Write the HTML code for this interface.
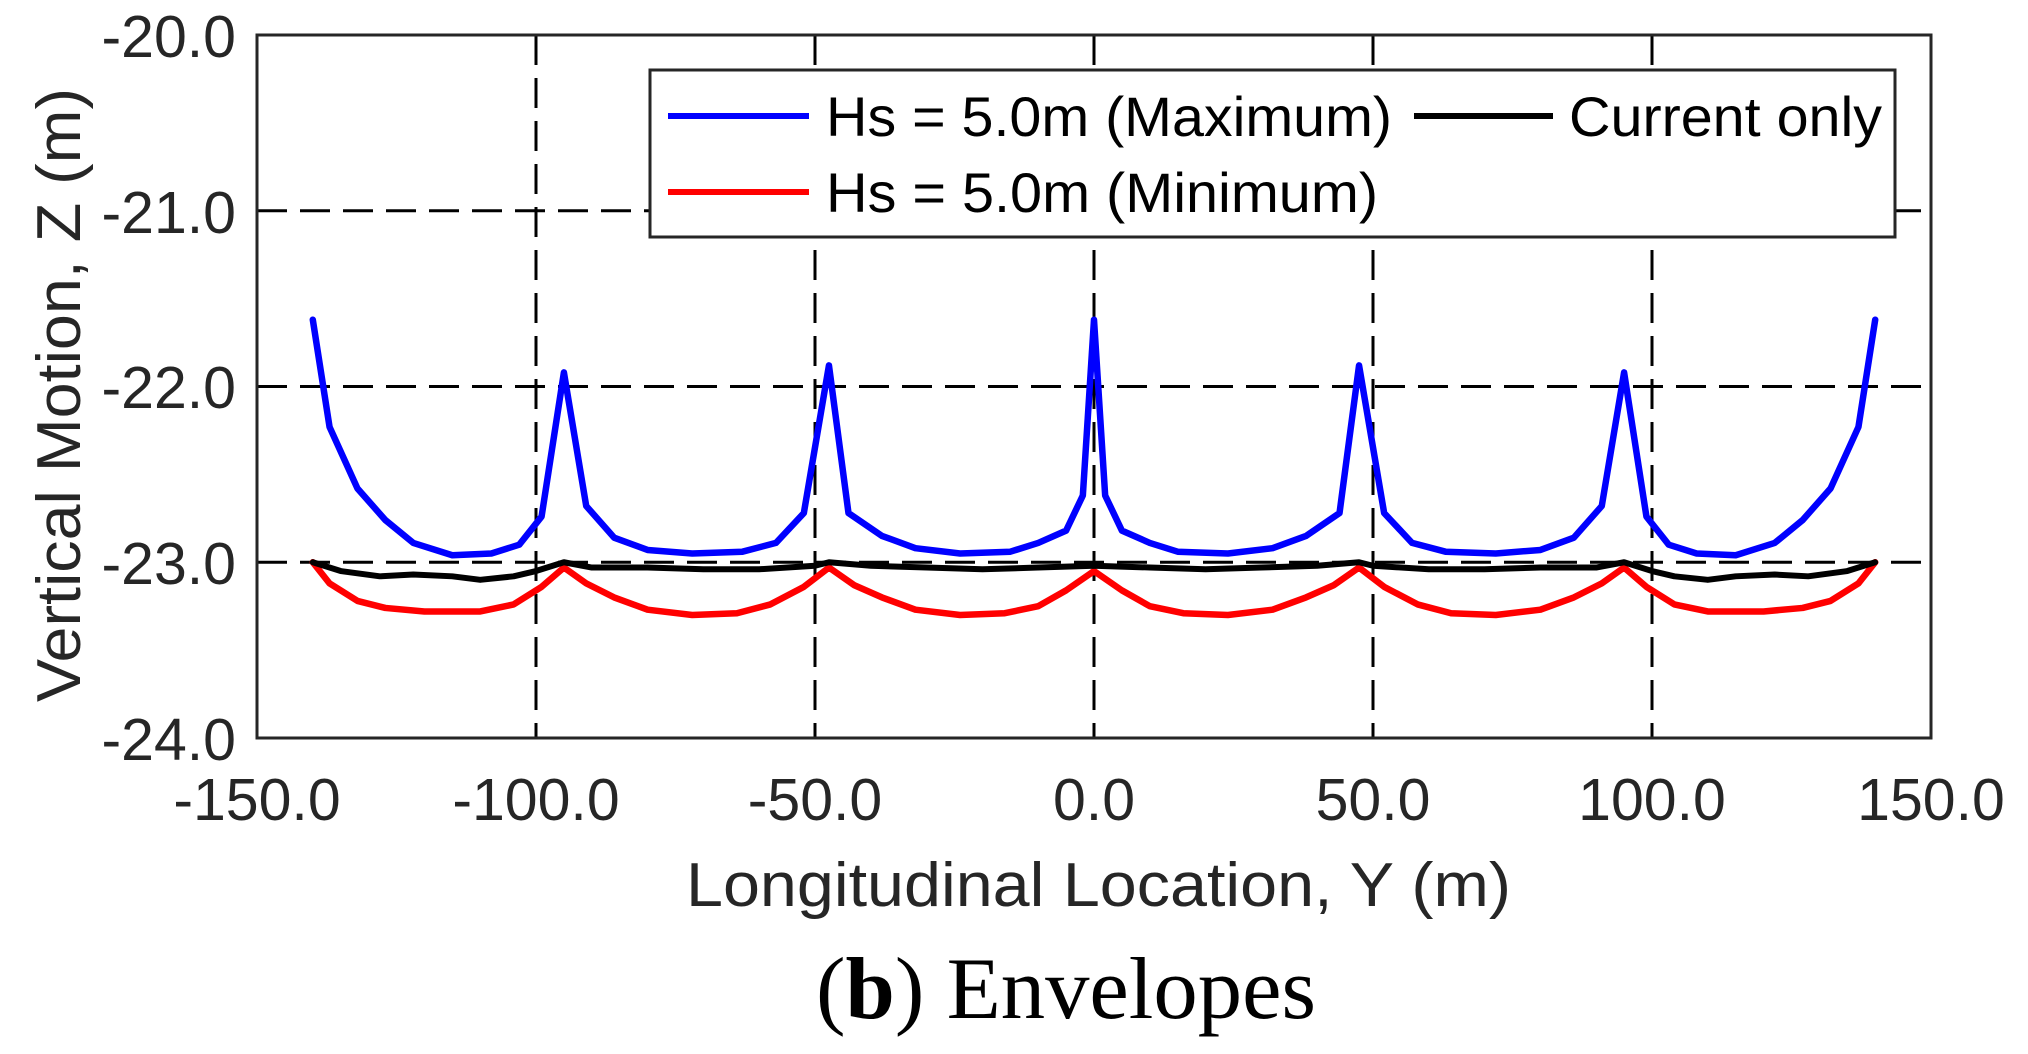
<!DOCTYPE html>
<html><head><meta charset="utf-8"><style>
html,body{margin:0;padding:0;background:#fff;}
svg{display:block;}
</style></head><body>
<svg width="2028" height="1054" viewBox="0 0 2028 1054" xmlns="http://www.w3.org/2000/svg" font-family="Liberation Sans, Arial, sans-serif">
<rect width="2028" height="1054" fill="#fff"/>
<!-- grid -->
<g stroke="#000" stroke-width="3" stroke-dasharray="30,13" fill="none">
<line x1="536" y1="35" x2="536" y2="738"/>
<line x1="815" y1="35" x2="815" y2="738"/>
<line x1="1094" y1="35" x2="1094" y2="738"/>
<line x1="1373" y1="35" x2="1373" y2="738"/>
<line x1="1652" y1="35" x2="1652" y2="738"/>
<line x1="257" y1="210.75" x2="1931" y2="210.75"/>
<line x1="257" y1="386.5" x2="1931" y2="386.5"/>
<line x1="257" y1="562.25" x2="1931" y2="562.25"/>
</g>
<!-- series -->
<g transform="matrix(5.58 0 0 -175.75 1094 -3480)" fill="none" stroke-linejoin="round" stroke-linecap="round">
<polyline vector-effect="non-scaling-stroke" stroke="#0000ff" stroke-width="6.5" points="-140,-21.62 -137,-22.23 -132,-22.58 -127,-22.76 -122,-22.89 -115,-22.96 -108,-22.95 -103,-22.9 -99,-22.74 -95,-21.92 -91,-22.68 -86,-22.86 -80,-22.93 -72,-22.95 -63,-22.94 -57,-22.89 -52,-22.72 -47.5,-21.88 -44,-22.72 -38,-22.85 -32,-22.92 -24,-22.95 -15,-22.94 -10,-22.89 -5,-22.82 -2,-22.62 0,-21.62 2,-22.62 5,-22.82 10,-22.89 15,-22.94 24,-22.95 32,-22.92 38,-22.85 44,-22.72 47.5,-21.88 52,-22.72 57,-22.89 63,-22.94 72,-22.95 80,-22.93 86,-22.86 91,-22.68 95,-21.92 99,-22.74 103,-22.9 108,-22.95 115,-22.96 122,-22.89 127,-22.76 132,-22.58 137,-22.23 140,-21.62"/>
<polyline vector-effect="non-scaling-stroke" stroke="#ff0000" stroke-width="6.5" points="-140,-23.0 -137,-23.12 -132,-23.22 -127,-23.26 -120,-23.28 -110,-23.28 -104,-23.24 -99,-23.14 -95,-23.03 -91,-23.12 -86,-23.2 -80,-23.27 -72,-23.3 -64,-23.29 -58,-23.24 -52,-23.14 -47.5,-23.03 -43,-23.13 -38,-23.2 -32,-23.27 -24,-23.3 -16,-23.29 -10,-23.25 -5,-23.16 0,-23.05 5,-23.16 10,-23.25 16,-23.29 24,-23.3 32,-23.27 38,-23.2 43,-23.13 47.5,-23.03 52,-23.14 58,-23.24 64,-23.29 72,-23.3 80,-23.27 86,-23.2 91,-23.12 95,-23.03 99,-23.14 104,-23.24 110,-23.28 120,-23.28 127,-23.26 132,-23.22 137,-23.12 140,-23.0"/>
<polyline vector-effect="non-scaling-stroke" stroke="#000" stroke-width="6" points="-140,-23.0 -135,-23.05 -128,-23.08 -122,-23.07 -115,-23.08 -110,-23.1 -104,-23.08 -100,-23.05 -95,-23.0 -90,-23.03 -80,-23.03 -70,-23.04 -60,-23.04 -50,-23.02 -47.5,-23.0 -40,-23.02 -30,-23.03 -20,-23.04 -10,-23.03 0,-23.02 10,-23.03 20,-23.04 30,-23.03 40,-23.02 47.5,-23.0 50,-23.02 60,-23.04 70,-23.04 80,-23.03 90,-23.03 95,-23.0 100,-23.05 104,-23.08 110,-23.1 115,-23.08 122,-23.07 128,-23.08 135,-23.05 140,-23.0"/>
</g>
<!-- axes box -->
<rect x="257" y="35" width="1674" height="703" fill="none" stroke="#262626" stroke-width="3"/>
<!-- legend -->
<rect x="650" y="70" width="1245" height="167" fill="#fff" stroke="#262626" stroke-width="3"/>
<line x1="668" y1="116" x2="809" y2="116" stroke="#0000ff" stroke-width="6"/>
<line x1="668" y1="192" x2="809" y2="192" stroke="#ff0000" stroke-width="6"/>
<line x1="1414" y1="116" x2="1553" y2="116" stroke="#000" stroke-width="6"/>
<g font-size="56" fill="#000">
<text x="826" y="136" textLength="566" lengthAdjust="spacingAndGlyphs">Hs = 5.0m (Maximum)</text>
<text x="826" y="212" textLength="552" lengthAdjust="spacingAndGlyphs">Hs = 5.0m (Minimum)</text>
<text x="1569" y="136" textLength="313" lengthAdjust="spacingAndGlyphs">Current only</text>
</g>
<!-- y tick labels -->
<g font-size="59" fill="#262626" text-anchor="end">
<text x="236" y="57">-20.0</text>
<text x="236" y="233">-21.0</text>
<text x="236" y="408">-22.0</text>
<text x="236" y="584">-23.0</text>
<text x="236" y="760">-24.0</text>
</g>
<!-- x tick labels -->
<g font-size="59" fill="#262626" text-anchor="middle">
<text x="257" y="820">-150.0</text>
<text x="536" y="820">-100.0</text>
<text x="815" y="820">-50.0</text>
<text x="1094" y="820">0.0</text>
<text x="1373" y="820">50.0</text>
<text x="1652" y="820">100.0</text>
<text x="1931" y="820">150.0</text>
</g>
<!-- axis titles -->
<text x="686" y="906" font-size="62" fill="#262626" textLength="825" lengthAdjust="spacingAndGlyphs">Longitudinal Location, Y (m)</text>
<text transform="translate(80,702) rotate(-90)" x="0" y="0" font-size="62" fill="#262626" textLength="614" lengthAdjust="spacingAndGlyphs">Vertical Motion, Z (m)</text>
<!-- caption -->
<text x="816" y="1018" font-family="Liberation Serif, Times New Roman, serif" font-size="88" fill="#000" textLength="500" lengthAdjust="spacingAndGlyphs">(<tspan font-weight="bold">b</tspan>) Envelopes</text>
</svg>
</body></html>
